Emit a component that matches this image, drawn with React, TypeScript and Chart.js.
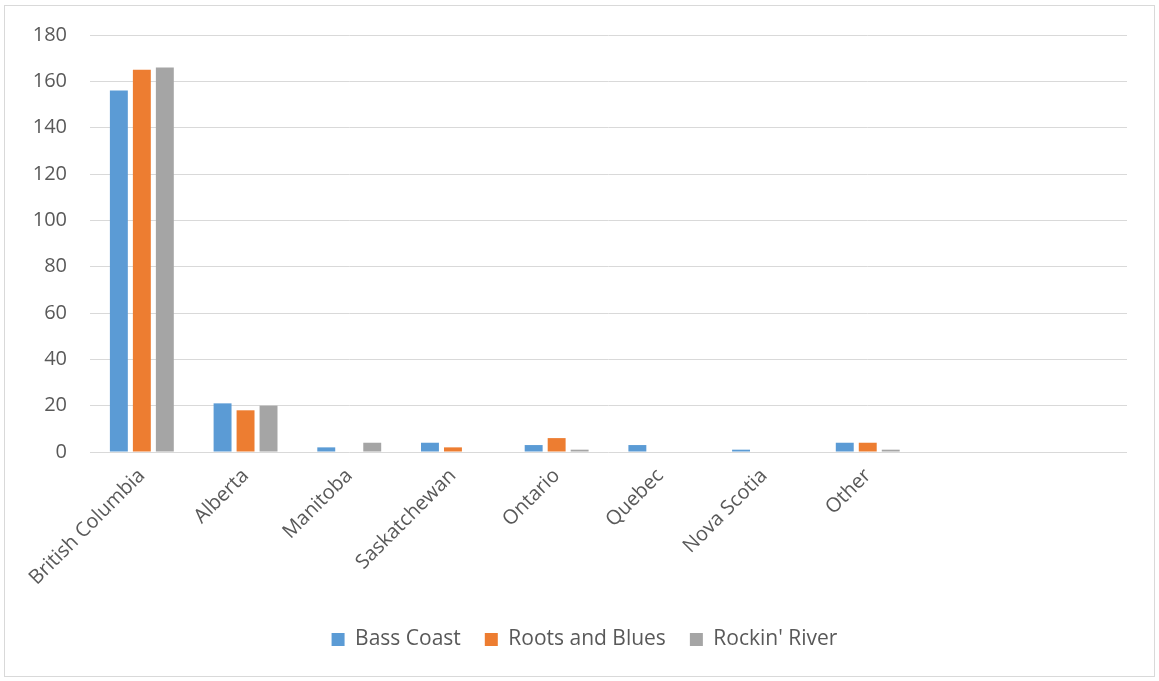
import React, { useEffect, useRef } from "react";
import { Chart, registerables } from "chart.js";

Chart.register(...registerables);

const categories = ["British Columbia", "Alberta", "Manitoba", "Saskatchewan", "Ontario", "Quebec", "Nova Scotia", "Other", "", ""];
const bassCoast = [156, 21, 2, 4, 3, 3, 1, 4, null, null];
const rootsAndBlues = [165, 18, 0, 2, 6, 0, 0, 4, null, null];
const rockinRiver = [166, 20, 4, 0, 1, 0, 0, 1, null, null];
const yTicks = [0, 20, 40, 60, 80, 100, 120, 140, 160, 180];

const FONT = "'Open Sans', sans-serif";
const TEXT = "#595959";

const borderPlugin = {
  id: "outerBorder",
  afterLayout(chart: any) {
    if (chart.legend) {
      chart.legend.left += 21;
      chart.legend.right += 21;
    }
  },
  beforeDraw(chart: any) {
    const ctx = chart.ctx;
    ctx.save();
    ctx.fillStyle = "#ffffff";
    ctx.fillRect(0, 0, chart.width, chart.height);
    ctx.strokeStyle = "#d9d9d9";
    ctx.lineWidth = 1;
    ctx.strokeRect(4.5, 5.5, 1150, 671);
    ctx.restore();
  },
};

export default function App() {
  const ref = useRef<HTMLCanvasElement | null>(null);
  useEffect(() => {
    const canvas = ref.current;
    if (!canvas) return;
    const chart = new Chart(canvas, {
      type: "bar",
      data: {
        labels: categories,
        datasets: [
          { label: "Bass Coast", data: bassCoast as any, backgroundColor: "#5B9BD5" },
          { label: "Roots and Blues", data: rootsAndBlues as any, backgroundColor: "#ED7D31" },
          { label: "Rockin' River", data: rockinRiver as any, backgroundColor: "#A5A5A5" },
        ],
      },
      options: {
        animation: false,
        responsive: false,
        maintainAspectRatio: false,
        datasets: { bar: { categoryPercentage: 0.665, barPercentage: 0.78 } },
        layout: { padding: { left: 0, right: 32, top: 27, bottom: 21 } },
        plugins: {
          legend: {
            position: "bottom",
            labels: {
              font: { family: FONT, size: 21 },
              color: TEXT,
              boxWidth: 13,
              boxHeight: 13,
              padding: 24,
            },
          },
          tooltip: { enabled: false },
        },
        scales: {
          x: {
            grid: { display: false },
            border: { display: false },
            ticks: {
              font: { family: FONT, size: 20 },
              color: TEXT,
              maxRotation: 45,
              minRotation: 45,
              autoSkip: false,
              padding: 4,
            },
            afterFit(scale: any) {
              scale.height = 153;
            },
          },
          y: {
            min: 0,
            max: 180,
            afterBuildTicks(scale: any) {
              scale.ticks = yTicks.map((v) => ({ value: v }));
            },
            grid: { color: "#d9d9d9", lineWidth: 1, drawTicks: false },
            border: { display: false },
            ticks: {
              font: { family: FONT, size: 20 },
              color: TEXT,
              padding: 23,
            },
            afterFit(scale: any) {
              scale.width = 90;
            },
          },
        },
      },
      plugins: [borderPlugin],
    });
    return () => chart.destroy();
  }, []);
  return (
    <canvas
      ref={ref}
      width={1159}
      height={681}
      style={{ position: "fixed", left: 0, top: 0, width: 1159, height: 681 }}
    />
  );
}
